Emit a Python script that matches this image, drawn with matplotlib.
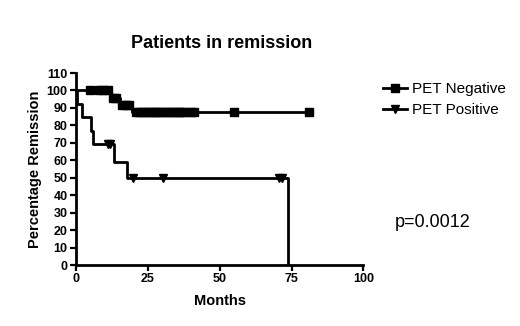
import matplotlib
matplotlib.use("Agg")
import matplotlib.pyplot as plt
from matplotlib.lines import Line2D

plt.rcParams["font.family"] = ["Liberation Sans", "DejaVu Sans"]

# ── Kaplan-Meier step data ───────────────────────────────────────────────────
neg_times = [0, 12, 15.5, 19.5, 81]
neg_surv = [100, 95.8, 91.7, 87.5, 87.5]
neg_cens_t = [5, 8, 9.5, 11, 13, 14, 16, 17.5, 18.5,
              21, 22, 23, 24, 25, 26, 27, 28, 29, 30, 31, 32, 33, 34,
              35, 36, 37, 38, 40, 41, 55, 81]
neg_cens_s = [100, 100, 100, 100, 95.8, 95.8, 91.7, 91.7, 91.7] + [87.5] * 22

pos_times = [0, 0.3, 2.0, 5.2, 6.0, 13.3, 17.9, 73.8, 73.8]
pos_surv = [100, 92.3, 84.6, 76.9, 69.2, 59.3, 50, 0, 0]
pos_cens_t = [11, 12, 20, 30.4, 70.6, 71.5]
pos_cens_s = [69.2, 69.2, 50, 50, 50, 50]

x_ticks = [0, 25, 50, 75, 100]
y_ticks = list(range(0, 111, 10))

BLACK = "#000000"

fig = plt.figure(figsize=(5.2, 3.26), dpi=100, facecolor="white")
ax = fig.add_axes([0.146, 0.187, 0.553, 0.589])

ax.step(neg_times, neg_surv, where="post", color=BLACK, lw=2)
ax.plot(neg_cens_t, neg_cens_s, ls="none", marker="s", ms=5.5, color=BLACK)
ax.step(pos_times, pos_surv, where="post", color=BLACK, lw=2)
ax.plot(pos_cens_t, pos_cens_s, ls="none", marker="v", ms=6, color=BLACK)

ax.set_xlim(0, 100)
ax.set_ylim(0, 110)
ax.set_xticks(x_ticks)
ax.set_yticks(y_ticks)
ax.spines[["top", "right"]].set_visible(False)
for s in ["left", "bottom"]:
    ax.spines[s].set_linewidth(2)
ax.tick_params(length=4, width=1.6, labelsize=9, pad=2)
for lbl in ax.get_xticklabels() + ax.get_yticklabels():
    lbl.set_fontweight("bold")

ax.set_xlabel("Months", fontsize=10.5, fontweight="bold", labelpad=6)
ax.set_ylabel("Percentage Remission", fontsize=10.5, fontweight="bold", labelpad=3)
fig.text(0.427, 0.868, "Patients in remission", fontsize=13, fontweight="bold",
         ha="center", va="center")

handles = [
    Line2D([], [], color=BLACK, lw=2, marker="s", ms=5.5),
    Line2D([], [], color=BLACK, lw=2, marker="v", ms=6),
]
fig.legend(handles, ["PET Negative", "PET Positive"], loc="upper left",
           bbox_to_anchor=(0.71, 0.79), frameon=False, fontsize=11,
           handlelength=1.6, handletextpad=0.3, labelspacing=0.45)

fig.text(0.76, 0.319, "p=0.0012", fontsize=13, va="center")

fig.savefig("out.png", dpi=100, facecolor="white")
